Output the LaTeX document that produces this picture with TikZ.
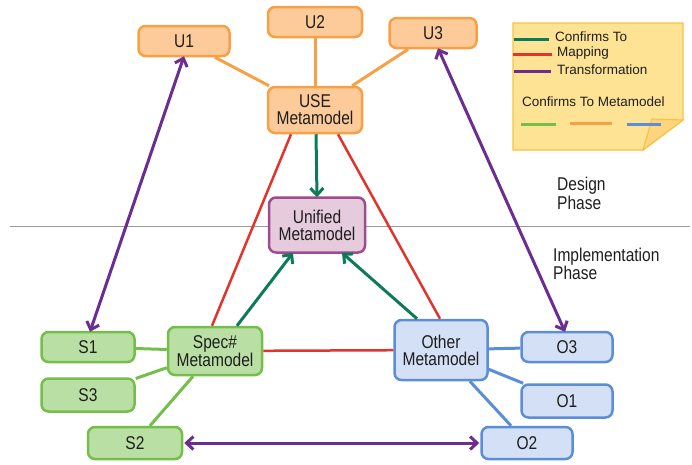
\documentclass[tikz,border=0pt]{standalone}
\usepackage{fontspec}
\setmainfont{Liberation Sans}
\newfontfamily\nf{Liberation Sans}[FakeStretch=0.84]
\usetikzlibrary{arrows.meta}
\definecolor{orfill}{HTML}{FCCB99}
\definecolor{ordraw}{HTML}{F7A045}
\definecolor{grfill}{HTML}{BADFA5}
\definecolor{grdraw}{HTML}{73BF4A}
\definecolor{blfill}{HTML}{D3E0F5}
\definecolor{bldraw}{HTML}{5B8ED6}
\definecolor{pufill}{HTML}{E5CBDC}
\definecolor{pudraw}{HTML}{9D4D8F}
\definecolor{teal}{HTML}{0E7A5C}
\definecolor{redl}{HTML}{E0342C}
\definecolor{purl}{HTML}{6B2D8F}
\definecolor{notefill}{HTML}{FFE395}
\definecolor{notedraw}{HTML}{F5C445}
\definecolor{txt}{HTML}{1E1E1E}
\tikzset{
  box/.style={draw, rounded corners=7pt, line width=2.5pt, align=center, inner sep=0pt,
    font=\nf\fontsize{18.5}{17}\selectfont, text=txt},
  obox/.style={box, fill=orfill, draw=ordraw},
  gbox/.style={box, fill=grfill, draw=grdraw},
  bbox/.style={box, fill=blfill, draw=bldraw},
  pbox/.style={box, fill=pufill, draw=pudraw},
  small/.style={minimum width=91pt, minimum height=30pt},
  big/.style={minimum width=92pt, minimum height=46pt},
  oline/.style={draw=ordraw, line width=3pt},
  gline/.style={draw=grdraw, line width=3pt},
  bline/.style={draw=bldraw, line width=3pt},
  conf/.style={draw=teal, line width=3pt, -{Straight Barb[length=7pt,width=13pt,line width=3pt]}},
  mapl/.style={draw=redl, line width=2.5pt},
  trans/.style={draw=purl, line width=3pt, {Straight Barb[length=7pt,width=13pt,line width=3pt]}-{Straight Barb[length=7pt,width=13pt,line width=3pt]}},
  lbl/.style={font=\nf\fontsize{18.5}{18}\selectfont, text=txt, anchor=base west, inner sep=0pt},
  leg/.style={font=\fontsize{13.5}{15}\selectfont, text=txt, anchor=west, inner sep=0pt},
}
\begin{document}
\begin{tikzpicture}[x=1pt,y=-1pt]
\useasboundingbox (0,0) rectangle (692,464);
% divider
\draw[draw=gray!80, line width=0.8pt] (10,226) -- (690,226);
% legend note
\path[fill=notefill, draw=notedraw, line width=1.2pt] (513,23) -- (683,23) -- (683,120) -- (643,150) -- (513,150) -- cycle;
\path[fill=notefill!85!orange, draw=notedraw, line width=1.2pt] (643,150) -- (652,119) -- (683,120) -- cycle;
\draw[teal, line width=3pt] (514,39) -- (549,39);
\draw[redl, line width=3pt] (513,54) -- (552,54);
\draw[purl, line width=3pt] (514,71) -- (551,71);
\node[leg] (l1) at (555,37) {Confirms To};
\node[leg] (l2) at (557,53) {Mapping};
\node[leg] (l3) at (557,70) {Transformation};
\node[leg] (l4) at (522,102) {Confirms To Metamodel};
\draw[grdraw, line width=3pt] (521,124) -- (556,124);
\draw[ordraw, line width=3pt] (570,123) -- (612,123);
\draw[bldraw, line width=3pt] (627,124) -- (661,124);
% phase labels
\node[lbl] (dp1) at (557,190) {Design};
\node[lbl] (dp2) at (557,209) {Phase};
\node[lbl] (ip1) at (553,261) {Implementation};
\node[lbl] (ip2) at (553,279) {Phase};
% nodes
\node[obox, small] (U1) at (184,41) {U1};
\node[obox, small, minimum width=94pt] (U2) at (315,22) {U2};
\node[obox, small, minimum width=87pt] (U3) at (433,33) {U3};
\node[obox, big, minimum width=94pt] (USE) at (315,110) {USE\\Metamodel};
\node[pbox, big, minimum width=96pt, minimum height=55pt] (UNI) at (317,225) {Unified\\Metamodel};
\node[gbox, big, minimum width=94pt, minimum height=48pt] (SPEC) at (215,351) {Spec\#\\Metamodel};
\node[bbox, big, minimum width=93pt, minimum height=60pt] (OTH) at (441,350) {Other\\Metamodel};
\node[gbox, small, minimum width=93pt] (S1) at (88,347) {S1};
\node[gbox, small, minimum width=93pt, minimum height=33pt] (S3) at (88,395) {S3};
\node[gbox, small, minimum width=94pt, minimum height=32pt] (S2) at (135,443) {S2};
\node[bbox, small] (O3) at (567,347) {O3};
\node[bbox, small, minimum height=33pt] (O1) at (567,401) {O1};
\node[bbox, small, minimum height=32pt] (O2) at (527,443) {O2};
% connectors
\path[oline] (U1) -- (USE);
\path[oline] (U2) -- (USE);
\path[oline] (U3) -- (USE);
\path[gline] (S1) -- (SPEC);
\path[gline] (S3) -- (SPEC);
\path[gline] (S2) -- (SPEC);
\path[bline] (O3) -- (OTH);
\path[bline] (O1) -- (OTH);
\path[bline] (O2) -- (OTH);
\path[mapl] ([xshift=-24pt]USE.south) -- ([xshift=-3pt]SPEC.north);
\path[mapl] ([xshift=23pt]USE.south) -- ([xshift=-1pt]OTH.north);
\path[mapl] (SPEC) -- (OTH);
\path[conf] ([xshift=1pt]USE.south) -- ([yshift=-1pt]UNI.north);
\path[conf] ([xshift=22pt]SPEC.north) -- ([xshift=-24pt,yshift=1pt]UNI.south);
\path[conf] ([xshift=-24pt]OTH.north) -- ([xshift=25pt,yshift=1pt]UNI.south);
\path[trans] ([yshift=1pt]U1.south) -- ([xshift=2pt,yshift=-1pt]S1.north);
\path[trans] ([xshift=5pt,yshift=1pt]U3.south) -- ([xshift=-2pt,yshift=-1pt]O3.north);
\path[trans] ([xshift=1pt]S2.east) -- ([xshift=-1pt]O2.west);
\end{tikzpicture}
\end{document}
